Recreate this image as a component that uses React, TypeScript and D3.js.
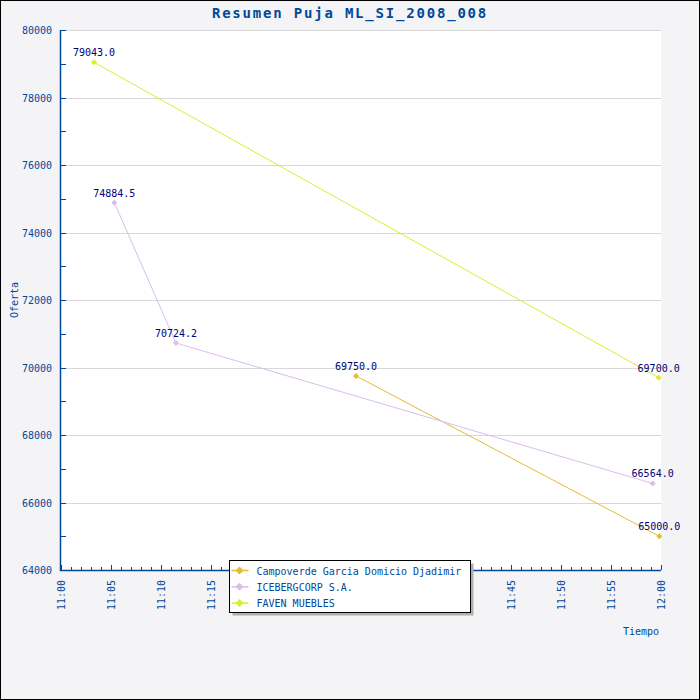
import React, { useEffect } from "react";
import * as d3 from "d3";

const title = "Resumen Puja ML_SI_2008_008";
const seriesNames = ["Campoverde Garcia Domicio Djadimir", "ICEBERGCORP S.A.", "FAVEN MUEBLES"];
const seriesColors = ["#e4bc34", "#dcbcec", "#dcec2c"];
const campoverdeTimes = ["11:29:30", "11:59:50"];
const campoverdeValues = [69750, 65000];
const icebergTimes = ["11:05:20", "11:11:30", "11:59:10"];
const icebergValues = [74884.5, 70724.2, 66564];
const favenTimes = ["11:03:18", "11:59:46"];
const favenValues = [79043, 69700];
const yTicks = [64000, 66000, 68000, 70000, 72000, 74000, 76000, 78000, 80000];
const xTickLabels = ["11:00", "11:05", "11:10", "11:15", "11:20", "11:25", "11:30", "11:35", "11:40", "11:45", "11:50", "11:55", "12:00"];

const parse = d3.timeParse("%H:%M:%S");
const parseHM = d3.timeParse("%H:%M");

const W = 700, H = 700;
const L = 61, R = 661, T = 30, B = 570;
const axisColor = "#00489a";
const labelColor = "#000078";
const font = "'DejaVu Sans Mono', monospace";

export default function App() {
  useEffect(() => {
    document.body.style.margin = "0";
  }, []);

  const x = d3.scaleTime().domain([parseHM("11:00")!, parseHM("12:00")!]).range([L, R]);
  const y = d3.scaleLinear().domain([64000, 80000]).range([B, T]);

  const series = [
    { name: seriesNames[0], color: seriesColors[0], times: campoverdeTimes, values: campoverdeValues },
    { name: seriesNames[1], color: seriesColors[1], times: icebergTimes, values: icebergValues },
    { name: seriesNames[2], color: seriesColors[2], times: favenTimes, values: favenValues },
  ].map((s) => ({ ...s, pts: s.times.map((t, i) => ({ t: parse(t)!, v: s.values[i] })) }));

  const line = d3
    .line<{ t: Date; v: number }>()
    .x((d) => x(d.t))
    .y((d) => y(d.v));

  const minorY = d3.range(64000, 80001, 1000);
  const minuteTicks = x.ticks(d3.timeMinute.every(1)!);

  const diamond = (cx: number, cy: number, r = 4) =>
    `M${cx},${cy - r}L${cx + r},${cy}L${cx},${cy + r}L${cx - r},${cy}Z`;

  const legX = 229.5, legY = 560.5, legW = 241, legH = 52;

  return (
    <svg width={W} height={H} style={{ display: "block" }} fontFamily={font}>
      <rect x={0.5} y={0.5} width={W - 1} height={H - 1} fill="#f4f4f6" stroke="#000" />
      <rect x={L} y={T} width={R - L} height={B - T} fill="#fff" />
      {yTicks.map((v) => (
        <line key={"g" + v} x1={L} x2={R} y1={Math.round(y(v)) + 0.5} y2={Math.round(y(v)) + 0.5} stroke="#d8d8d8" />
      ))}
      <text x={W / 2} y={18} textAnchor="middle" fontSize={14} fontWeight="bold" fill={axisColor} letterSpacing={1.8}>
        {title}
      </text>
      {/* y axis */}
      <line x1={L - 0.5} x2={L - 0.5} y1={T} y2={B + 1} stroke={axisColor} strokeWidth={1.5} />
      {minorY.map((v) => (
        <line key={"yt" + v} x1={L} x2={L + 5} y1={Math.round(y(v)) + 0.5} y2={Math.round(y(v)) + 0.5} stroke={axisColor} />
      ))}
      {yTicks.map((v) => (
        <text key={"yl" + v} x={52} y={y(v) + 4} textAnchor="end" fontSize={10} fill={axisColor}>
          {v}
        </text>
      ))}
      <text transform={`translate(18,300) rotate(-90)`} textAnchor="middle" fontSize={10} fill={axisColor}>
        Oferta
      </text>
      {/* x axis */}
      <line x1={L - 1} x2={R} y1={B + 0.5} y2={B + 0.5} stroke={axisColor} strokeWidth={1.5} />
      {minuteTicks.map((t, i) => {
        const major = t.getMinutes() % 5 === 0;
        const xx = Math.round(x(t)) + 0.5;
        return <line key={"xt" + i} x1={xx} x2={xx} y1={B} y2={B - (major ? 5 : 3)} stroke={axisColor} />;
      })}
      {xTickLabels.map((lab) => (
        <text key={"xl" + lab} transform={`translate(${x(parseHM(lab)!) + 3.5},580) rotate(-90)`} textAnchor="end" fontSize={10} fill={axisColor}>
          {lab}
        </text>
      ))}
      <text x={659} y={635} textAnchor="end" fontSize={10} fill={axisColor}>
        Tiempo
      </text>
      {/* series */}
      {series.map((s) => (
        <g key={s.name}>
          <path d={line(s.pts)!} fill="none" stroke={s.color} strokeWidth={1} />
          {s.pts.map((p, i) => (
            <path key={i} d={diamond(x(p.t), y(p.v), 3)} fill={s.color} />
          ))}
        </g>
      ))}
      {series.map((s) =>
        s.pts.map((p, i) => (
          <text key={s.name + "l" + i} x={x(p.t)} y={y(p.v) - 6} textAnchor="middle" fontSize={10} fill={labelColor}>
            {p.v.toFixed(1)}
          </text>
        ))
      )}
      {/* legend */}
      <rect x={legX + 3} y={legY + 3} width={legW} height={legH} fill="#b0b0b0" />
      <rect x={legX} y={legY} width={legW} height={legH} fill="#fff" stroke="#000" />
      {series.map((s, i) => {
        const ly = 570.5 + i * 16.3;
        return (
          <g key={"leg" + i}>
            <line x1={legX + 2} x2={legX + 19} y1={ly} y2={ly} stroke={s.color} strokeWidth={1.5} />
            <path d={diamond(legX + 10, ly, 4)} fill={s.color} />
            <text x={256.5} y={ly + 4} fontSize={10} fill={axisColor}>
              {s.name}
            </text>
          </g>
        );
      })}
    </svg>
  );
}
